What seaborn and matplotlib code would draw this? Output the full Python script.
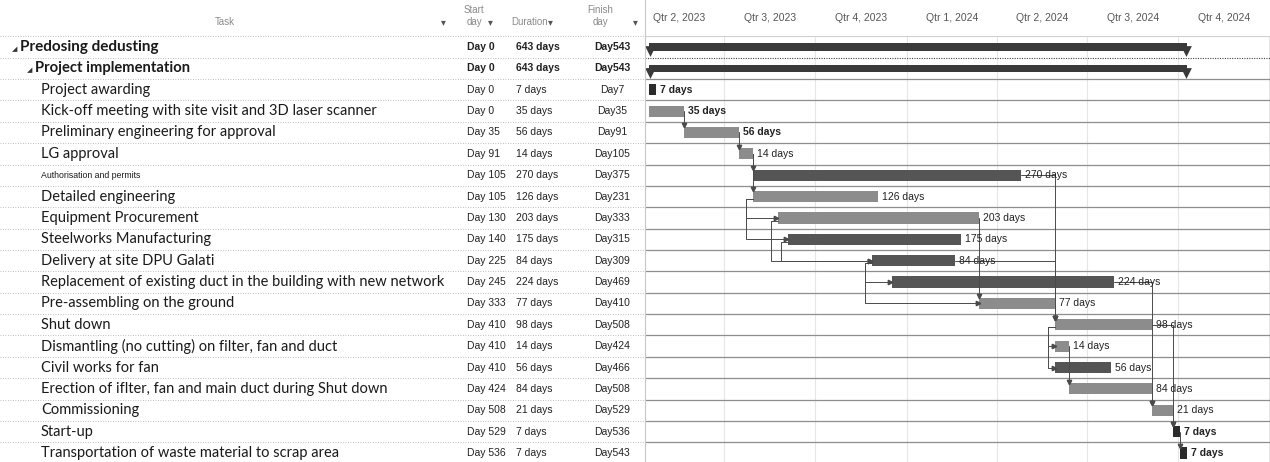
import numpy as np
import pandas as pd
import matplotlib
matplotlib.use("Agg")
import matplotlib.pyplot as plt
import matplotlib.transforms as mtransforms
import seaborn as sns

# ---------------- data ----------------
tasks = [
    "Predosing dedusting",
    "Project implementation",
    "Project awarding",
    "Kick-off meeting with site visit and 3D laser scanner",
    "Preliminary engineering for approval",
    "LG approval",
    "Authorisation and permits",
    "Detailed engineering",
    "Equipment Procurement",
    "Steelworks Manufacturing",
    "Delivery at site DPU Galati",
    "Replacement of existing duct in the building with new network",
    "Pre-assembling on the ground",
    "Shut down",
    "Dismantling (no cutting) on filter, fan and duct",
    "Civil works for fan",
    "Erection of iflter, fan and main duct during Shut down",
    "Commissioning",
    "Start-up",
    "Transportation of waste material to scrap area",
]
levels = [0, 1] + [2] * 18
start_days = [0, 0, 0, 0, 35, 91, 105, 105, 130, 140, 225, 245, 333, 410, 410, 410, 424, 508, 529, 536]
durations = [643, 643, 7, 35, 56, 14, 270, 126, 203, 175, 84, 224, 77, 98, 14, 56, 84, 21, 7, 7]
finish_days = [543, 543, 7, 35, 91, 105, 375, 231, 333, 315, 309, 469, 410, 508, 424, 466, 508, 529, 536, 543]
kinds = ["summary", "summary", "black", "light", "light", "light", "dark", "light", "light", "dark",
         "dark", "dark", "light", "light", "light", "dark", "light", "light", "black", "black"]
label_bold = [False, False, True, True, True, False, False, False, False, False,
              False, False, False, False, False, False, False, False, True, True]
# dependency links (predecessor row, successor row, type)
links = [(3, 4, "FS"), (4, 5, "FS"), (5, 6, "FS"), (5, 7, "FS"),
         (7, 8, "SS"), (7, 9, "SS"), (8, 10, "SS"), (9, 10, "SS"),
         (10, 11, "SS"), (10, 12, "SS"), (8, 12, "FS"),
         (6, 13, "FS"), (10, 13, "FS"), (12, 13, "FS"),
         (13, 14, "SS"), (13, 15, "SS"), (14, 16, "FS"),
         (11, 17, "FS"), (16, 17, "FS"), (13, 18, "FS"), (17, 18, "FS"), (18, 19, "FS")]
quarter_labels = ["Qtr 2, 2023", "Qtr 3, 2023", "Qtr 4, 2023", "Qtr 1, 2024",
                  "Qtr 2, 2024", "Qtr 3, 2024", "Qtr 4, 2024"]
quarter_starts = ["2023-04-01", "2023-07-01", "2023-10-01", "2024-01-01",
                  "2024-04-01", "2024-07-01", "2024-10-01", "2025-01-01"]
project_start = "2023-04-16"

palette = {"summary": "#3a3a3a", "black": "#2b2b2b", "dark": "#555555", "light": "#8c8c8c"}

# ---------------- layout ----------------
sns.set_theme(style="white")
plt.rcParams['font.family'] = ['Lato', 'DejaVu Sans']

W, H = 1270, 462
fig = plt.figure(figsize=(W / 100, H / 100), dpi=100)
fig.patch.set_facecolor("white")
n = len(tasks)
row_px = (453 - 47) / (n - 1)
top_px = 47 - row_px / 2
ybot = (H - 47) / row_px
axh = (H - top_px) / H
split = 645
ax_t = fig.add_axes([0, 0, split / W, axh])
ax_g = fig.add_axes([split / W, 0, (W - split) / W, axh])

px_day = 0.991
x0 = 649
ax_g.set_xlim(-(x0 - split) / px_day, (W - x0) / px_day)

def fy(ypx):
    return 1 - ypx / H

# ---------------- gantt bars (seaborn) ----------------
df = pd.DataFrame(dict(task=tasks, start=start_days, finish=finish_days, kind=kinds))
df["span"] = df["finish"] - df["start"]
bar_h = {"light": 0.52, "dark": 0.52, "black": 0.52, "summary": 0.36}
for kind in ["light", "dark", "black", "summary"]:
    sub = df[df["kind"] == kind]
    sns.barplot(data=sub, x="span", y="task", order=tasks, orient="y",
                color=palette[kind], saturation=1, width=bar_h[kind],
                left=sub["start"].to_numpy(), errorbar=None, linewidth=0, ax=ax_g)

# summary end caps
for i in range(n):
    if kinds[i] == "summary":
        ax_g.scatter([start_days[i] + 1, finish_days[i] - 1], [i + 0.2, i + 0.2], marker="v",
                     s=60, color=palette["summary"], linewidths=0, zorder=3)

ax_g.set_ylim(ybot, -0.5)
ax_g.set_yticks([])
ax_g.set_xticks([])
ax_g.set_xlabel("")
ax_g.set_ylabel("")
for s in ax_g.spines.values():
    s.set_visible(False)

# quarter grid and labels
qpos = [(pd.Timestamp(q) - pd.Timestamp(project_start)).days for q in quarter_starts]
for q in qpos:
    ax_g.axvline(q, color="#e6e6e6", lw=0.8, zorder=0)
trans_g = mtransforms.blended_transform_factory(ax_g.transData, fig.transFigure)
for lab, a, b in zip(quarter_labels, qpos[:-1], qpos[1:]):
    ax_g.text((a + b) / 2, fy(18), lab, transform=trans_g, ha="center", va="center",
              fontsize=7.5, color="#555555", family="Liberation Sans")

# row lines in gantt
for k in range(n):
    yb = k + 0.5
    if k == 0:
        ax_g.axhline(yb, color="#444444", lw=0.8, ls=(0, (1, 1.2)), zorder=1)
    else:
        ax_g.axhline(yb, color="#8e8e8e", lw=0.9, zorder=1)
ax_g.axhline(-0.5, color="#d0d0d0", lw=0.8, zorder=1)

# bar labels
for i in range(2, n):
    ax_g.text(finish_days[i] + 4, i, f"{durations[i]} days", ha="left", va="center",
              fontsize=7.5, color="#222222", family="Liberation Sans",
              fontweight="bold" if label_bold[i] else "normal", zorder=4)

# dependency links
lk = dict(color="#4a4a4a", lw=0.7, zorder=2)
off = 7
for p, s, typ in links:
    hs = bar_h[kinds[s]] / 2
    if typ == "FS":
        xs = [finish_days[p], start_days[s], start_days[s]]
        ys = [p, p, s - hs]
        ax_g.plot(xs, ys, **lk)
        ax_g.plot(start_days[s], s - hs - 0.08, marker="v", ms=3.2, color="#4a4a4a", zorder=3)
    else:
        xs = [start_days[p], start_days[p] - off, start_days[p] - off, start_days[s]]
        ys = [p + 0.12, p + 0.12, s, s]
        ax_g.plot(xs, ys, **lk)
        ax_g.plot(start_days[s] - 1.5, s, marker=">", ms=3.2, color="#4a4a4a", zorder=3)

# ---------------- table ----------------
ax_t.set_xlim(0, split)
ax_t.set_ylim(ybot, -0.5)
ax_t.axis("off")
for k in range(-1, n):
    ax_t.axhline(k + 0.5, color="#a8a8a8", lw=0.6, ls=(0, (1, 2)), zorder=1)
fig.add_artist(plt.Line2D([split / W, split / W], [0, 1], color="#c8c8c8", lw=0.8))

indent = {0: 20, 1: 35, 2: 41}
summary_size = {0: 11.0, 1: 10.6}
for i, t in enumerate(tasks):
    lv = levels[i]
    if lv < 2:
        ax_t.text(indent[lv] - 8, i + 0.1, "\u25e2", ha="left", va="center", fontsize=5,
                  color="#333333", family="DejaVu Sans")
        ax_t.text(indent[lv], i, t, ha="left", va="center", fontsize=summary_size[lv],
                  fontweight="bold", color="#1a1a1a")
    elif t.startswith("Authorisation"):
        ax_t.text(indent[lv], i, t, ha="left", va="center", fontsize=6.3,
                  color="#1a1a1a", family="Liberation Sans")
    else:
        ax_t.text(indent[lv], i, t, ha="left", va="center", fontsize=10.5,
                  color="#1a1a1a")
    fw = "bold" if lv < 2 else "normal"
    ax_t.text(467, i, f"Day {start_days[i]}", ha="left", va="center", fontsize=7.5,
              family="Liberation Sans", fontweight=fw, color="#222222")
    ax_t.text(516, i, f"{durations[i]} days", ha="left", va="center", fontsize=7.5,
              family="Liberation Sans", fontweight=fw, color="#222222")
    ax_t.text(612, i, f"Day{finish_days[i]}", ha="center", va="center", fontsize=7.5,
              family="Liberation Sans", fontweight=fw, color="#222222")

# header
hk = dict(fontsize=7, color="#8a8a8a", family="Liberation Sans", transform=fig.transFigure)
fig.text(225 / W, fy(22), "Task", ha="center", va="center", **hk)
fig.text(474 / W, fy(10), "Start", ha="center", va="center", **hk)
fig.text(474 / W, fy(22), "day", ha="center", va="center", **hk)
fig.text(530 / W, fy(22), "Duration", ha="center", va="center", **hk)
fig.text(600 / W, fy(10), "Finish", ha="center", va="center", **hk)
fig.text(600 / W, fy(22), "day", ha="center", va="center", **hk)
for xa in [443, 490, 550, 635]:
    fig.text(xa / W, fy(22), "\u25be", ha="center", va="center", fontsize=7,
             color="#555555", family="DejaVu Sans", transform=fig.transFigure)

fig.savefig("out.png", dpi=100, facecolor="white")
